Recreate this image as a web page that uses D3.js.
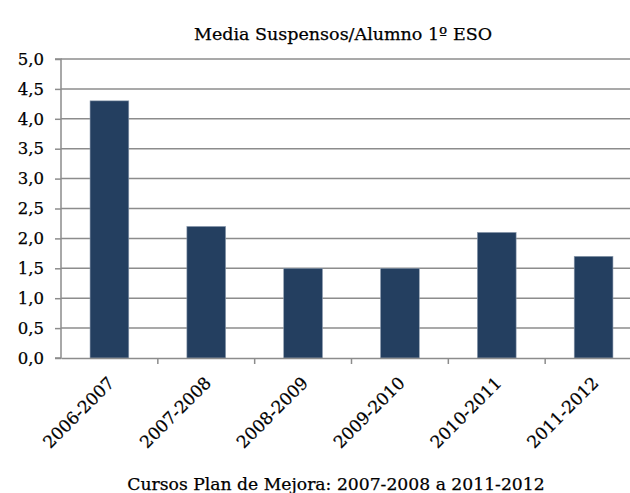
<!DOCTYPE html>
<html><head><meta charset="utf-8">
<script src="https://cdn.jsdelivr.net/npm/d3@7"></script>
<style>body{margin:0;background:#fff}svg{display:block}text{stroke:#000;stroke-width:0.25px}</style>
</head><body>
<script>
const categories = ["2006-2007","2007-2008","2008-2009","2009-2010","2010-2011","2011-2012"];
const values = [4.3, 2.2, 1.5, 1.5, 2.1, 1.7];
const yTicks = [0,0.5,1,1.5,2,2.5,3,3.5,4,4.5,5];
const title = "Media Suspensos/Alumno 1º ESO";
const xTitle = "Cursos Plan de Mejora: 2007-2008 a 2011-2012";

(function(){
const W = 630, H = 493;
const svg = d3.select("body").append("svg").attr("width", W).attr("height", H);
const pL = 61, pR = 642, pT = 59, pB = 358;
const x = d3.scaleBand().domain(categories).range([pL, pR]).padding(0);
const y = d3.scaleLinear().domain([0, 5]).range([pB, pT]);
const fmt = d => d.toFixed(1).replace(".", ",");
const FONT = "DejaVu Serif";

svg.append("g").selectAll("line").data(yTicks.filter(d => d > 0)).join("line")
  .attr("x1", pL).attr("x2", pR).attr("y1", d => y(d)).attr("y2", d => y(d))
  .attr("stroke", "#8c8c8c").attr("stroke-width", 1.5);

svg.append("g").selectAll("rect").data(values).join("rect")
  .attr("x", (d, i) => x(categories[i]) + x.bandwidth() * 0.3)
  .attr("width", x.bandwidth() * 0.4)
  .attr("y", d => y(d)).attr("height", d => y(0) - y(d))
  .attr("fill", "#243f60").attr("stroke", "#8c9bae").attr("stroke-width", 0.6);

const ya = svg.append("g").attr("transform", `translate(${pL},0)`)
  .call(d3.axisLeft(y).tickValues(yTicks).tickFormat(fmt).tickSize(6).tickPadding(11));
ya.select(".domain").attr("stroke", "#8c8c8c").attr("stroke-width", 1.5).attr("d", `M-6,${pT}H0V${pB}H-6`);
ya.selectAll(".tick line").attr("stroke", "#8c8c8c").attr("stroke-width", 1.5);
ya.selectAll("text").attr("font-family", FONT).attr("font-size", 16.5).attr("fill", "#000");

const xa = svg.append("g").attr("transform", `translate(0,${pB})`)
  .call(d3.axisBottom(x).tickSize(0).tickFormat(d => d));
xa.select(".domain").attr("stroke", "#8c8c8c").attr("stroke-width", 1.5);
xa.selectAll(".tick line").remove();
xa.selectAll(".tick text")
  .attr("font-family", FONT).attr("font-size", 17).attr("fill", "#000")
  .attr("text-anchor", "end").attr("dy", 0).attr("y", 0)
  .attr("transform", "translate(6,26) rotate(-45)");
svg.append("g").selectAll("line").data(categories.slice(1)).join("line")
  .attr("x1", d => x(d)).attr("x2", d => x(d)).attr("y1", pB).attr("y2", pB + 6)
  .attr("stroke", "#8c8c8c").attr("stroke-width", 1.5);

svg.append("text").attr("x", 343).attr("y", 40).attr("text-anchor", "middle")
  .attr("font-family", FONT).attr("font-size", 17.5).attr("fill", "#000").text(title);
svg.append("text").attr("x", 336).attr("y", 490).attr("text-anchor", "middle")
  .attr("font-family", FONT).attr("font-size", 17.2).attr("fill", "#000").text(xTitle);
})();
</script>
</body></html>
